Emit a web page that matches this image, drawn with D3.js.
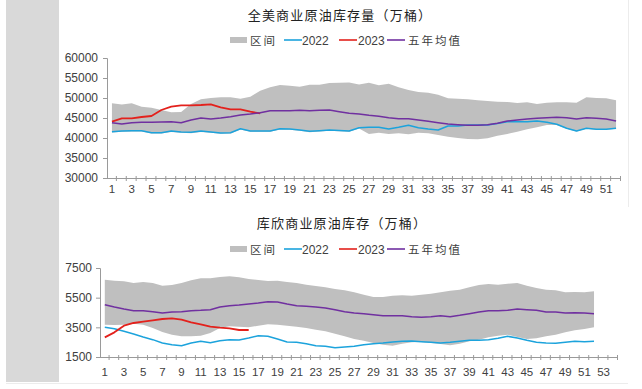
<!DOCTYPE html>
<html>
<head>
<meta charset="utf-8">
<script src="https://cdn.jsdelivr.net/npm/d3@7"></script>
<style>
  body { margin: 0; background: #fff; }
  svg { display: block; }
</style>
</head>
<body>
<svg id="chart" width="642" height="389"></svg>
<script>
// weeks
var weeks52 = [1,2,3,4,5,6,7,8,9,10,11,12,13,14,15,16,17,18,19,20,21,22,23,24,25,26,
  27,28,29,30,31,32,33,34,35,36,37,38,39,40,41,42,43,44,45,46,47,48,49,50,51,52];
var weeks54 = weeks52.concat([53, 54]);

var legendNames = ["区间", "2022", "2023", "五年均值"];

// 全美商业原油库存量（万桶）
var usHigh = [48670,48400,48670,47830,47580,47000,46420,46500,48500,49670,
  50000,50170,50170,49830,50330,51830,52670,53250,53080,52830,
  53330,53330,53750,53830,53900,53400,53830,53170,53580,52670,
  52000,51500,51330,50830,49920,49830,49670,49420,49250,49080,
  49000,48750,48920,48500,48830,48920,48920,48830,50170,50000,
  49920,49420];
var usLow = [41350,41550,41600,41600,41100,41100,41500,41300,41200,41500,
  41300,41050,41100,42100,41550,41550,41550,42100,42050,41800,
  41450,41600,41800,41700,41550,42350,41000,41330,41000,41170,
  40920,41330,41170,40750,40330,40000,39750,39670,39920,40580,
  41000,41580,42170,42670,43250,43250,42300,41650,42300,42050,
  42050,42300];
var us2022 = [41580,41750,41830,41830,41330,41330,41750,41500,41420,41750,
  41500,41250,41330,42330,41750,41750,41750,42330,42250,42000,
  41670,41830,42000,41900,41750,42580,42670,42670,42250,42670,
  43170,42580,42250,42000,43000,43000,43250,43250,43250,43600,
  44080,44080,44080,44250,43920,43420,42420,41750,42420,42170,
  42170,42420];
var us2023 = [44080,44920,44920,45250,45500,47000,47830,48170,48170,48250,
  48420,47670,47170,47170,46580,46170];
var usAvg = [43830,43500,43830,43920,43920,44000,44080,43830,44500,45000,
  44750,45000,45330,45750,46000,46330,46830,46830,46830,46920,
  46830,46920,47000,46580,46170,46000,45670,45420,45080,44830,
  44830,44500,44170,43830,43500,43330,43170,43170,43330,43670,
  44250,44500,44750,44920,45080,45170,45080,44750,45080,44920,
  44750,44250];
var usTicks = [30000,35000,40000,45000,50000,55000,60000];

// 库欣商业原油库存（万桶）
var cuHigh = [6714,6646,6600,6489,6556,6489,6309,6354,6489,6669,
  6803,6803,6893,6938,6871,6758,6691,6624,6646,6556,
  6489,6376,6290,6200,6084,5994,5860,5702,5545,5545,
  5635,5657,5635,5702,5770,5860,5972,6039,6197,6354,
  6421,6376,6444,6489,6309,6152,6039,5994,5860,5882,
  5860,5927];
var cuLow = [3680,3658,3680,3748,3680,3455,3186,3006,2894,2894,
  2939,3118,3455,3568,3545,3500,3613,3703,3680,3613,
  3545,3455,3343,3231,3073,2894,2714,2602,2444,2332,
  2265,2399,2489,2512,2444,2377,2287,2399,2557,2669,
  2826,2939,3006,2849,2714,2759,2894,3006,3163,3298,
  3388,3500];
var cu2022 = [3500,3410,3231,3051,2849,2669,2444,2332,2265,2444,
  2557,2467,2602,2669,2647,2781,2939,2894,2714,2512,
  2489,2399,2265,2220,2130,2175,2220,2332,2399,2444,
  2512,2557,2579,2534,2489,2444,2489,2557,2624,2624,
  2669,2759,2894,2781,2624,2489,2444,2422,2489,2557,
  2534,2557];
var cu2023 = [2826,3163,3613,3793,3882,3972,4062,4107,4017,3837,
  3703,3545,3478,3433,3321,3321];
var cuAvg = [5028,4871,4736,4624,4624,4556,4467,4534,4556,4624,
  4646,4691,4871,4961,5006,5073,5141,5230,5208,5073,
  4961,4916,4871,4804,4691,4556,4467,4422,4354,4287,
  4287,4287,4220,4175,4220,4287,4220,4309,4422,4534,
  4624,4624,4646,4736,4691,4646,4534,4534,4467,4489,
  4467,4422];
var cuTicks = [1500,3500,5500,7500];

var colors = { band: "#bfbfbf", y2022: "#1ca3dc", y2023: "#e3211c", avg: "#7030a0" };
var axisColor = "#9a9a9a";
var textColor = "#404040";
var numFont = "'Liberation Sans', Arial, sans-serif";
var cjkFont = "'Noto Sans CJK SC', sans-serif";

var svg = d3.select("svg#chart");

// page decoration
svg.append("rect").attr("x", 6).attr("y", 0).attr("width", 53).attr("height", 382)
  .attr("fill", "#d9d9d9");
svg.append("line").attr("x1", 6).attr("x2", 628).attr("y1", 383.5).attr("y2", 383.5)
  .attr("stroke", "#ececec");
svg.append("line").attr("x1", 628.5).attr("x2", 628.5).attr("y1", 0).attr("y2", 207)
  .attr("stroke", "#ececec");

function drawPanel(cfg) {
    var g = svg.append("g");

    var x = d3.scaleBand().domain(cfg.cats).range([cfg.left, cfg.right]).padding(0);
    var y = d3.scaleLinear().domain([cfg.ticks[0], cfg.ticks[cfg.ticks.length - 1]])
        .range([cfg.bottom, cfg.top]);
    var cx = w => x(w) + x.bandwidth() / 2;

    // title
    g.append("text")
        .attr("x", cfg.titleX).attr("y", cfg.titleY)
        .attr("text-anchor", "middle")
        .attr("font-family", cjkFont)
        .attr("font-size", "13px")
        .attr("letter-spacing", "1.2px")
        .attr("fill", "#222")
        .text(cfg.title);

    // legend
    var lg = g.append("g").attr("transform", "translate(0," + cfg.legendY + ")");
    lg.append("rect").attr("x", 230).attr("y", -3).attr("width", 17).attr("height", 6)
        .attr("fill", colors.band);
    var items = [
        { sx: 284, tx: 302, c: colors.y2022, name: legendNames[1], f: numFont },
        { sx: 339, tx: 358, c: colors.y2023, name: legendNames[2], f: numFont },
        { sx: 387, tx: 408, c: colors.avg, name: legendNames[3], f: cjkFont }
    ];
    lg.append("text").attr("x", 250).attr("y", 4.5)
        .attr("font-family", cjkFont).attr("font-size", "11.5px")
        .attr("letter-spacing", "2px").attr("fill", textColor).text(legendNames[0]);
    items.forEach(function(it) {
        lg.append("line").attr("x1", it.sx).attr("x2", it.sx + 18)
            .attr("y1", 0).attr("y2", 0)
            .attr("stroke", it.c).attr("stroke-width", 1.6);
        lg.append("text").attr("x", it.tx).attr("y", 4.5)
            .attr("font-family", it.f)
            .attr("font-size", it.f === cjkFont ? "11.5px" : "12px")
            .attr("letter-spacing", it.f === cjkFont ? "2px" : "0px")
            .attr("fill", textColor).text(it.name);
    });

    // band
    var area = d3.area()
        .x((d, i) => cx(cfg.cats[i]))
        .y0(d => y(d[0]))
        .y1(d => y(d[1]));
    g.append("path")
        .datum(cfg.low.map((v, i) => [v, cfg.high[i]]))
        .attr("fill", colors.band)
        .attr("d", area);

    var line = d3.line().x((d, i) => cx(cfg.cats[i])).y(d => y(d));
    [[cfg.s2022, colors.y2022, 1.5], [cfg.s2023, colors.y2023, 1.8], [cfg.avg, colors.avg, 1.5]]
        .forEach(function(s) {
            g.append("path").datum(s[0])
                .attr("fill", "none")
                .attr("stroke", s[1])
                .attr("stroke-width", s[2])
                .attr("stroke-linejoin", "round")
                .attr("d", line);
        });

    // y axis
    var yAxis = g.append("g")
        .attr("transform", "translate(" + cfg.left + ",0)")
        .call(d3.axisLeft(y).tickValues(cfg.ticks).tickFormat(d3.format("d"))
            .tickSize(4).tickPadding(cfg.yPad));
    yAxis.selectAll("text").attr("font-family", numFont).attr("font-size", "12px")
        .attr("fill", textColor);

    // x axis, ticks at category boundaries
    var xAxis = g.append("g").attr("transform", "translate(0," + cfg.bottom + ")");
    xAxis.append("line").attr("x1", cfg.left).attr("x2", cfg.right)
        .attr("y1", 0.5).attr("y2", 0.5).attr("stroke", axisColor);
    xAxis.selectAll("line.tk")
        .data(cfg.cats.slice(1).concat(["end"]))
        .enter().append("line")
        .attr("class", "tk")
        .attr("x1", d => (d === "end" ? cfg.right : x(d)) - 0.5)
        .attr("x2", d => (d === "end" ? cfg.right : x(d)) - 0.5)
        .attr("y1", -2).attr("y2", 3)
        .attr("stroke", axisColor);
    xAxis.selectAll("text")
        .data(cfg.cats.filter(w => w % 2 === 1 && cfg.labels.indexOf(w) >= 0))
        .enter().append("text")
        .attr("x", d => cx(d))
        .attr("y", cfg.xLabelDy)
        .attr("text-anchor", "middle")
        .attr("font-family", numFont)
        .attr("font-size", "11.5px")
        .attr("fill", textColor)
        .text(d => d);

    yAxis.select(".domain").attr("stroke", axisColor);
    yAxis.selectAll(".tick line").attr("stroke", axisColor);
}

drawPanel({
    title: "全美商业原油库存量（万桶）",
    titleX: 340, titleY: 20, legendY: 40,
    cats: weeks52, labels: weeks52,
    left: 107, right: 621, top: 58, bottom: 178,
    ticks: usTicks, yPad: 5, xLabelDy: 15,
    high: usHigh, low: usLow, s2022: us2022, s2023: us2023, avg: usAvg
});

drawPanel({
    title: "库欣商业原油库存（万桶）",
    titleX: 342, titleY: 228, legendY: 249,
    cats: weeks54, labels: weeks54.slice(0, 53),
    left: 100, right: 618, top: 268, bottom: 357,
    ticks: cuTicks, yPad: 4, xLabelDy: 19,
    high: cuHigh, low: cuLow, s2022: cu2022, s2023: cu2023, avg: cuAvg
});
</script>
</body>
</html>
